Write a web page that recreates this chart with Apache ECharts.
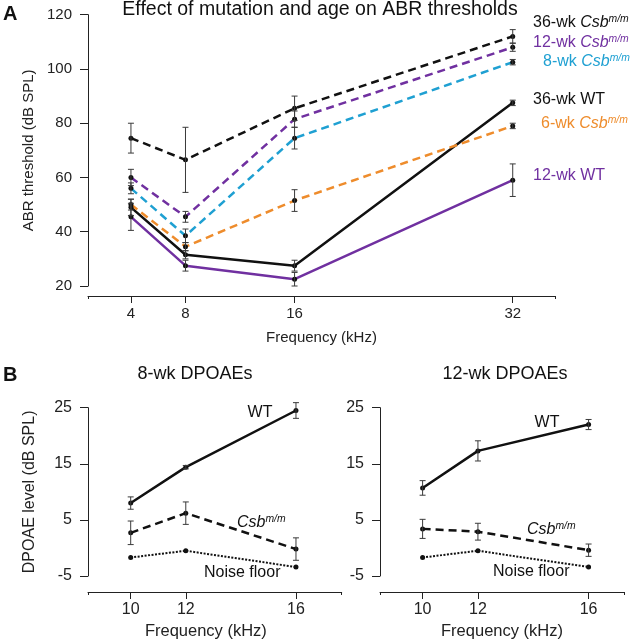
<!DOCTYPE html>
<html>
<head>
<meta charset="utf-8">
<title>ABR thresholds and DPOAEs</title>
<script src="https://cdn.jsdelivr.net/npm/echarts@6.0.0/dist/echarts.min.js"></script>
<style>
  html, body { margin: 0; padding: 0; background: #fff; }
  #chart { width: 631px; height: 640px; }
</style>
</head>
<body>
<div id="chart"></div>
<script>
// ---- panel A: ABR thresholds ----
const abrFreq = [4, 8, 16, 32];
const abrTicks = [4, 8, 16, 32];
const csb36wk = [74.5, 66.5, 85.5, 112];
const csb36wkErr = [5.5, 12, 4.5, 2.5];
const csb12wk = [60, 45.5, 81.5, 108];
const csb12wkErr = [3, 2, 3, 1.5];
const csb8wk = [56, 38.5, 74.5, 102.5];
const csb8wkErr = [2, 2.5, 4, 1];
const csb6wk = [50, 34.5, 51.5, 79];
const csb6wkErr = [2, 1.5, 4, 1];
const wt36wk = [49, 31.5, 27.5, 87.5];
const wt36wkErr = [3, 1.5, 2, 1];
const wt12wk = [45.5, 27.5, 22.5, 59];
const wt12wkErr = [5, 2, 2.5, 6];

// ---- panel B: DPOAEs ----
const dpFreq = [10, 12, 16];
const dpTicks = [10, 12, 16];
const wt8wkDp = [8, 14.4, 24.5];
const wt8wkDpErr = [1.1, 0.3, 1.4];
const csb8wkDp = [2.7, 6.2, -0.2];
const csb8wkDpErr = [2.1, 2, 2];
const noise8wkDp = [-1.7, -0.5, -3.4];
const wt12wkDp = [10.7, 17.3, 22];
const wt12wkDpErr = [1.3, 1.8, 0.9];
const csb12wkDp = [3.4, 2.9, -0.4];
const csb12wkDpErr = [1.7, 1.5, 1.1];
const noise12wkDp = [-1.7, -0.5, -3.4];

const font = "Liberation Sans, Arial, Helvetica, sans-serif";
const axisColor = "#222";
const purple = "#7030A0";
const cyan = "#1FA0D2";
const orange = "#EE8C2C";

const chart = echarts.init(document.getElementById("chart"), null, { renderer: "canvas" });

function pairs(xs, ys) {
  return xs.map((x, i) => [x, ys[i]]);
}

function errData(xs, ys, es) {
  return xs.map((x, i) => [x, ys[i] - es[i], ys[i] + es[i]]);
}

// vertical error bar with small caps
function renderErr(params, api) {
  const lo = api.coord([api.value(0), api.value(1)]);
  const hi = api.coord([api.value(0), api.value(2)]);
  const w = 3;
  const style = { stroke: "#3a3a3a", lineWidth: 1 };
  return {
    type: "group",
    children: [
      { type: "line", shape: { x1: lo[0], y1: lo[1], x2: hi[0], y2: hi[1] }, style },
      { type: "line", shape: { x1: lo[0] - w, y1: lo[1], x2: lo[0] + w, y2: lo[1] }, style },
      { type: "line", shape: { x1: hi[0] - w, y1: hi[1], x2: hi[0] + w, y2: hi[1] }, style },
    ],
  };
}

function lineSeries(idx, xs, ys, color, type, width) {
  return {
    type: "line",
    xAxisIndex: idx,
    yAxisIndex: idx,
    data: pairs(xs, ys),
    symbol: "circle",
    symbolSize: 5,
    z: 3,
    itemStyle: { color: "#111" },
    lineStyle: { color: color, width: width, type: type },
    silent: true,
  };
}

function errSeries(idx, xs, ys, es) {
  return {
    type: "custom",
    xAxisIndex: idx,
    yAxisIndex: idx,
    renderItem: renderErr,
    data: errData(xs, ys, es),
    encode: { x: 0, y: [1, 2] },
    z: 4,
    silent: true,
  };
}

// main x axis (data ticks) plus a helper axis that only draws the short end ticks
function xAxes(grid, min, max, ticks, offset, labelSize, nameSize, nameGap, namePad) {
  return [
    {
      type: "value",
      gridIndex: grid,
      position: "bottom",
      min: min,
      max: max,
      offset: offset,
      name: "Frequency (kHz)",
      nameLocation: "middle",
      nameGap: nameGap,
      nameTextStyle: { fontFamily: font, fontSize: nameSize, color: axisColor, padding: namePad },
      axisLine: { onZero: false, lineStyle: { color: axisColor, width: 1 } },
      axisTick: { customValues: ticks, length: 7, lineStyle: { color: axisColor } },
      axisLabel: { customValues: ticks, margin: 10, fontFamily: font, fontSize: labelSize, color: axisColor },
      splitLine: { show: false },
    },
    {
      type: "value",
      gridIndex: grid,
      position: "bottom",
      min: min,
      max: max,
      offset: offset,
      axisLine: { show: false, onZero: false },
      axisTick: { customValues: [min, max], length: 3, lineStyle: { color: axisColor } },
      axisLabel: { show: false },
      splitLine: { show: false },
    },
  ];
}

function yAxis(grid, min, max, interval, name, labelSize, nameSize) {
  return {
    type: "value",
    gridIndex: grid,
    min: min,
    max: max,
    interval: interval,
    name: name,
    nameLocation: "middle",
    nameGap: 50,
    nameTextStyle: { fontFamily: font, fontSize: nameSize, color: axisColor },
    axisLine: { show: true, onZero: false, lineStyle: { color: axisColor, width: 1 } },
    axisTick: { show: true, length: 8, lineStyle: { color: axisColor } },
    axisLabel: { margin: 16, fontFamily: font, fontSize: labelSize, color: axisColor },
    splitLine: { show: false },
  };
}

function text(x, y, str, color, size, opts) {
  return {
    type: "text",
    x: x,
    y: y,
    silent: true,
    style: {
      text: str,
      fill: color,
      font: (opts && opts.bold ? "bold " : "") + size + "px " + font,
      align: (opts && opts.align) || "left",
      verticalAlign: "middle",
    },
  };
}

// "NN-wk Csb^m/m" style labels
function csbText(x, y, prefix, color, size) {
  return {
    type: "text",
    x: x,
    y: y,
    silent: true,
    style: {
      text: "{a|" + prefix + "}{i|Csb}{s|m/m}",
      align: "left",
      verticalAlign: "middle",
      rich: {
        a: { fill: color, fontFamily: font, fontSize: size },
        i: { fill: color, fontFamily: font, fontSize: size, fontStyle: "italic" },
        s: { fill: color, fontFamily: font, fontSize: size * 0.65, fontStyle: "italic", padding: [0, 0, 8, 0] },
      },
    },
  };
}

const xA = xAxes(0, 0.85, 35.1, abrTicks, 10, 15, 15, 34, 0);
const xB1 = xAxes(1, 8.45, 17.66, dpTicks, 16, 16, 16.5, 31, [0, 18, 0, 0]);
const xB2 = xAxes(2, 8.46, 17.28, dpTicks, 16, 16, 16.5, 31, 0);

const option = {
  animation: false,
  backgroundColor: "#fff",
  textStyle: { fontFamily: font },
  grid: [
    { left: 88, top: 14.7, width: 467, height: 271.3, outerBoundsMode: "none" },
    { left: 88, top: 407.7, width: 253.7, height: 168.3, outerBoundsMode: "none" },
    { left: 380, top: 407.7, width: 244, height: 168.3, outerBoundsMode: "none" },
  ],
  xAxis: [xA[0], xB1[0], xB2[0], xA[1], xB1[1], xB2[1]],
  yAxis: [
    yAxis(0, 20, 120, 20, "ABR threshold (dB SPL)", 15, 15),
    yAxis(1, -5, 25, 10, "DPOAE level (dB SPL)", 16, 16),
    yAxis(2, -5, 25, 10, "", 16, 16),
  ],
  series: [
    // panel A
    lineSeries(0, abrFreq, wt12wk, purple, "solid", 2.5),
    lineSeries(0, abrFreq, wt36wk, "#111", "solid", 2.5),
    lineSeries(0, abrFreq, csb6wk, orange, [8, 5], 2.5),
    lineSeries(0, abrFreq, csb8wk, cyan, [8, 5], 2.5),
    lineSeries(0, abrFreq, csb12wk, purple, [8, 5], 2.5),
    lineSeries(0, abrFreq, csb36wk, "#111", [8, 5], 2.5),
    errSeries(0, abrFreq, wt12wk, wt12wkErr),
    errSeries(0, abrFreq, wt36wk, wt36wkErr),
    errSeries(0, abrFreq, csb6wk, csb6wkErr),
    errSeries(0, abrFreq, csb8wk, csb8wkErr),
    errSeries(0, abrFreq, csb12wk, csb12wkErr),
    errSeries(0, abrFreq, csb36wk, csb36wkErr),
    // panel B, 8-wk
    lineSeries(1, dpFreq, wt8wkDp, "#111", "solid", 2.5),
    lineSeries(1, dpFreq, csb8wkDp, "#111", [8, 5], 2.5),
    lineSeries(1, dpFreq, noise8wkDp, "#111", [2, 1.5], 2),
    errSeries(1, dpFreq, wt8wkDp, wt8wkDpErr),
    errSeries(1, dpFreq, csb8wkDp, csb8wkDpErr),
    // panel B, 12-wk
    lineSeries(2, dpFreq, wt12wkDp, "#111", "solid", 2.5),
    lineSeries(2, dpFreq, csb12wkDp, "#111", [8, 5], 2.5),
    lineSeries(2, dpFreq, noise12wkDp, "#111", [2, 1.5], 2),
    errSeries(2, dpFreq, wt12wkDp, wt12wkDpErr),
    errSeries(2, dpFreq, csb12wkDp, csb12wkDpErr),
  ],
  graphic: [
    text(3, 14, "A", "#111", 20, { bold: true }),
    text(3, 375, "B", "#111", 20, { bold: true }),
    text(320, 10, "Effect of mutation and age on ABR thresholds", "#111", 19.5, { align: "center" }),
    text(195, 374, "8-wk DPOAEs", "#111", 18, { align: "center" }),
    text(505, 374, "12-wk DPOAEs", "#111", 18, { align: "center" }),
    // series labels, panel A
    csbText(533, 23, "36-wk ", "#111", 16),
    csbText(533, 43, "12-wk ", purple, 16),
    csbText(543, 62, "8-wk ", cyan, 16),
    text(533, 100, "36-wk WT", "#111", 16),
    csbText(541, 124, "6-wk ", orange, 16),
    text(533, 176, "12-wk WT", purple, 16),
    // series labels, panel B
    text(260, 413, "WT", "#111", 16, { align: "center" }),
    csbText(237, 523, "", "#111", 16),
    text(204, 573, "Noise floor", "#111", 16),
    text(547, 423, "WT", "#111", 16, { align: "center" }),
    csbText(527, 530, "", "#111", 16),
    text(493, 572, "Noise floor", "#111", 16),
  ],
};

chart.setOption(option);
</script>
</body>
</html>
